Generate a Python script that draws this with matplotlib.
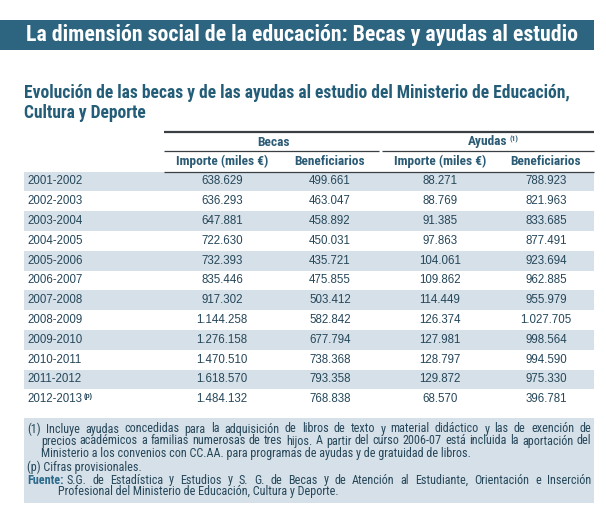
import matplotlib
matplotlib.use("Agg")
import matplotlib.pyplot as plt
from matplotlib.patches import Rectangle
from matplotlib import font_manager as fm

# ---------------- data ----------------
years = ["2001-2002", "2002-2003", "2003-2004", "2004-2005", "2005-2006", "2006-2007",
         "2007-2008", "2008-2009", "2009-2010", "2010-2011", "2011-2012", "2012-2013"]
becas_importe = [638629, 636293, 647881, 722630, 732393, 835446,
                 917302, 1144258, 1276158, 1470510, 1618570, 1484132]
becas_benef = [499661, 463047, 458892, 450031, 435721, 475855,
               503412, 582842, 677794, 738368, 793358, 768838]
ayudas_importe = [88271, 88769, 91385, 97863, 104061, 109862,
                  114449, 126374, 127981, 128797, 129872, 68570]
ayudas_benef = [788923, 821963, 833685, 877491, 923694, 962885,
                955979, 1027705, 998564, 994590, 975330, 396781]
group_labels = ["Becas", "Ayudas"]
sub_labels = ["Importe (miles €)", "Beneficiarios", "Importe (miles €)", "Beneficiarios"]

title = "La dimensión social de la educación: Becas y ayudas al estudio"
subtitle1 = "Evolución de las becas y de las ayudas al estudio del Ministerio de Educación,"
subtitle2 = "Cultura y Deporte"
note1 = ["(1) Incluye ayudas concedidas para la adquisición de libros de texto y material didáctico y las de exención de",
         "precios académicos a familias numerosas de tres hijos. A partir del curso 2006-07 está incluida la aportación del",
         "Ministerio a los convenios con CC.AA. para programas de ayudas y de gratuidad de libros."]
note_p = "(p) Cifras provisionales."
source_lbl = "Fuente:"
source = ["S.G. de Estadística y Estudios y S. G. de Becas y de Atención al Estudiante, Orientación e Inserción",
          "Profesional del Ministerio de Educación, Cultura y Deporte."]

# ---------------- setup ----------------
W, H = 606, 525
fig = plt.figure(figsize=(W / 100, H / 100), dpi=100)
fig.patch.set_facecolor("white")
ax = fig.add_axes([0, 0, 1, 1])
ax.set_xlim(0, W)
ax.set_ylim(H, 0)
ax.axis("off")
renderer = fig.canvas.get_renderer()


def pick_narrow():
    names = {f.name for f in fm.fontManager.ttflist}
    for n in ["Liberation Sans Narrow", "Roboto Condensed", "Noto Sans Condensed",
              "Open Sans Condensed", "Arial Narrow", "DejaVu Sans Condensed"]:
        if n in names:
            return dict(family=n)
    for f in fm.fontManager.ttflist:
        st = str(f.stretch)
        if st in ("condensed", "semi-condensed") and "Sans" in f.name and "Mono" not in f.name:
            return dict(family=f.name, fontstretch=st)
    return dict(family="Roboto")


NARROW = pick_narrow()
BODY = dict(family="Liberation Sans")

BAR = "#2d6581"
TEAL = "#245d78"
HDR = "#2b5b75"
TXT = "#26475a"
BAND = "#d5e0e8"
LINE = "#3a3f44"


def fmt(v):
    return f"{v:,}".replace(",", ".")


def width_of(t):
    return t.get_window_extent(renderer).width


def fit(x, y, s, width, size0, **kw):
    t = ax.text(x, y, s, fontsize=size0, **kw)
    w = width_of(t)
    t.set_fontsize(size0 * width / w)
    return t


def justify(x0, x1, y, s, **kw):
    words = s.split(" ")
    ts = [ax.text(0, y, w, **kw) for w in words]
    ws = [width_of(t) for t in ts]
    gap = (x1 - x0 - sum(ws)) / (len(words) - 1)
    x = x0
    for t, w in zip(ts, ws):
        t.set_x(x)
        x += w + gap


# ---------------- title bar ----------------
ax.add_patch(Rectangle((0, 20), 594, 30, facecolor=BAR, edgecolor="none"))
fit(26, 35.5, title, 556, 14, color="white", weight="bold", va="center", **NARROW)

# ---------------- subtitle ----------------
ts1 = fit(24, 93, subtitle1, 548, 12, color=TEAL, weight="bold", va="center", **NARROW)
ax.text(24, 113, subtitle2, color=TEAL, weight="bold", va="center",
        fontsize=ts1.get_fontsize(), **NARROW)

# ---------------- table ----------------
x_left, x_tab, x_right = 24, 164, 594
col_x = [222, 330, 440, 546]
group_x = [274, 488]
y_top, y_grp, y_mid, y_sub, y_hdr = 132, 142, 151, 161.5, 171.5
row_h = 19.8

ax.plot([x_tab, x_right], [y_top, y_top], color=LINE, lw=1.6, solid_capstyle="butt")
ax.plot([x_tab, 379], [y_mid, y_mid], color=LINE, lw=0.9, solid_capstyle="butt")
ax.plot([382, x_right], [y_mid, y_mid], color=LINE, lw=0.9, solid_capstyle="butt")
ax.plot([x_tab, x_right], [y_hdr, y_hdr], color=LINE, lw=0.9, solid_capstyle="butt")

hdr_kw = dict(color=HDR, weight="bold", fontsize=9.6, va="center", **NARROW)
ax.text(group_x[0], y_grp, group_labels[0], ha="center", **hdr_kw)
ta = ax.text(group_x[1], y_grp, group_labels[1], ha="center", **hdr_kw)
wa = width_of(ta)
ax.text(group_x[1] + wa / 2 + 2, y_grp - 3, "(1)", color=HDR, weight="bold",
        fontsize=5.5, va="center", **NARROW)
for cx, lab in zip(col_x, sub_labels):
    ax.text(cx, y_sub, lab, ha="center", **hdr_kw)

body_kw = dict(color=TXT, fontsize=8.3, va="center", **BODY)
cols = [becas_importe, becas_benef, ayudas_importe, ayudas_benef]
for i, yr in enumerate(years):
    y0 = y_hdr + i * row_h
    yc = y0 + row_h / 2
    if i % 2 == 0:
        ax.add_patch(Rectangle((x_left, y0), x_right - x_left, row_h,
                               facecolor=BAND, edgecolor="none", zorder=0))
    ty = ax.text(27, yc, yr, ha="left", **body_kw)
    if i == len(years) - 1:
        ax.text(27 + width_of(ty) + 2, yc - 3, "(p)", color=TXT, fontsize=5,
                va="center", weight="bold", **BODY)
    for cx, col in zip(col_x, cols):
        ax.text(cx, yc, fmt(col[i]), ha="center", **body_kw)

# ---------------- notes box ----------------
box_top, box_bot = 418, 503
ax.add_patch(Rectangle((x_left, box_top), x_right - x_left, box_bot - box_top,
                       facecolor=BAND, edgecolor="none", zorder=0))
# choose a note size so the tightest line fits its width
probe = fit(0, -50, note1[1], 544, 9, **NARROW)
note_size = probe.get_fontsize()
probe.remove()
note_kw = dict(color=TXT, fontsize=note_size, va="center", **NARROW)
justify(27, 591, 429, note1[0], **note_kw)
justify(41, 591, 441, note1[1], **note_kw)
ax.text(41, 453, note1[2], **note_kw)
ax.text(27, 467, note_p, **note_kw)
tf = ax.text(27, 480, source_lbl, color="#2a6a8c", weight="bold",
             fontsize=note_size, va="center", **NARROW)
wf = width_of(tf)
justify(27 + wf + 3, 591, 480, source[0], **note_kw)
ax.text(58, 492, source[1], **note_kw)

fig.savefig("out.png", dpi=100, facecolor="white")
